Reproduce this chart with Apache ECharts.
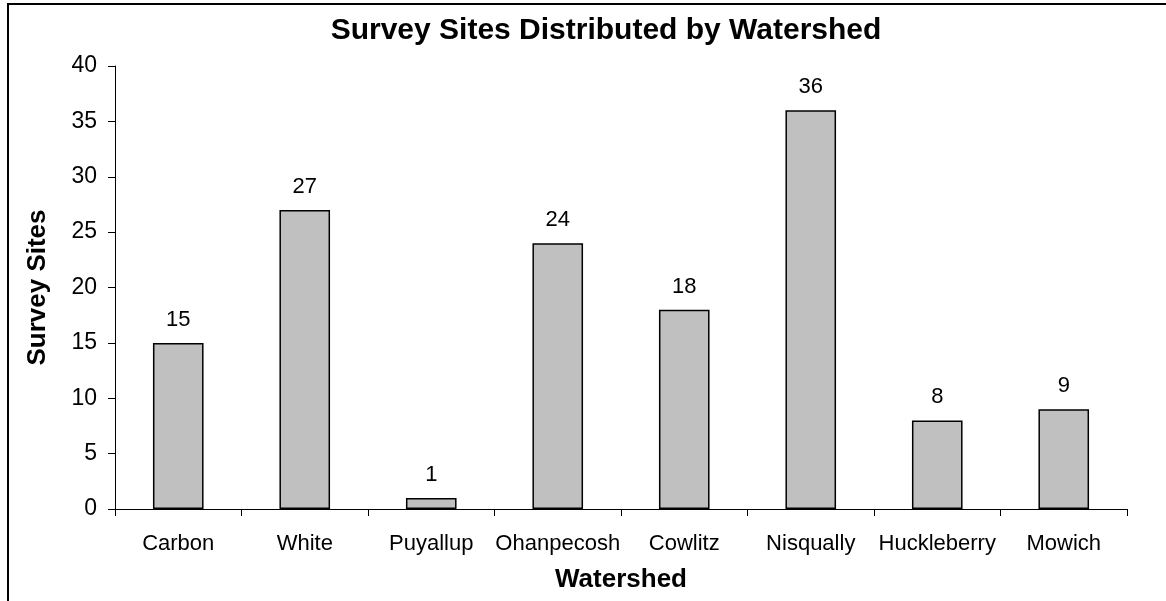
<!DOCTYPE html>
<html>
<head>
<meta charset="utf-8">
<script src="https://cdn.jsdelivr.net/npm/echarts@6/dist/echarts.min.js"></script>
<style>
  html, body { margin: 0; padding: 0; background: #fff; }
  #chart { width: 1166px; height: 601px; }
</style>
</head>
<body>
<div id="chart"></div>
<script>
// chart data
var watersheds = ["Carbon", "White", "Puyallup", "Ohanpecosh", "Cowlitz", "Nisqually", "Huckleberry", "Mowich"];
var surveySites = [15, 27, 1, 24, 18, 36, 8, 9];

var font = "'Liberation Sans', Arial, sans-serif";

var chart = echarts.init(document.getElementById("chart"));

var option = {
  animation: false,
  backgroundColor: "#fff",
  title: {
    text: "Survey Sites Distributed by Watershed",
    left: 601,
    textAlign: "center",
    top: 11,
    textStyle: { fontFamily: font, fontSize: 30, fontWeight: "bold", color: "#000" }
  },
  // outer frame of the chart area
  graphic: [{
    type: "rect",
    shape: { x: 8, y: 4, width: 1200, height: 700 },
    style: { fill: "none", stroke: "#000", lineWidth: 2 },
    silent: true
  }],
  grid: { left: 115, right: 39, top: 66, bottom: 92 },
  xAxis: {
    type: "category",
    data: watersheds,
    name: "Watershed",
    nameLocation: "middle",
    nameGap: 58,
    nameTextStyle: { fontFamily: font, fontSize: 26, fontWeight: "bold", color: "#000" },
    axisLine: { lineStyle: { color: "#000", width: 1 } },
    axisTick: { show: true, length: 7, lineStyle: { color: "#000" } },
    axisLabel: { fontFamily: font, fontSize: 22, color: "#000", margin: 24, interval: 0 },
    splitLine: { show: false }
  },
  yAxis: {
    type: "value",
    min: 0,
    max: 40,
    interval: 5,
    name: "Survey Sites",
    nameLocation: "middle",
    nameGap: 64,
    nameTextStyle: { fontFamily: font, fontSize: 26, fontWeight: "bold", color: "#000" },
    axisLine: { show: true, lineStyle: { color: "#000", width: 1 } },
    axisTick: { show: true, length: 7, lineStyle: { color: "#000" } },
    axisLabel: { fontFamily: font, fontSize: 23, color: "#000", margin: 18 },
    splitLine: { show: false }
  },
  series: [{
    type: "bar",
    data: surveySites,
    barWidth: "40%",
    itemStyle: { color: "#c0c0c0", borderColor: "#000", borderWidth: 1.5 },
    label: {
      show: true,
      position: "top",
      distance: 12,
      fontFamily: font,
      fontSize: 22,
      color: "#000"
    }
  }]
};

chart.setOption(option);
</script>
</body>
</html>
